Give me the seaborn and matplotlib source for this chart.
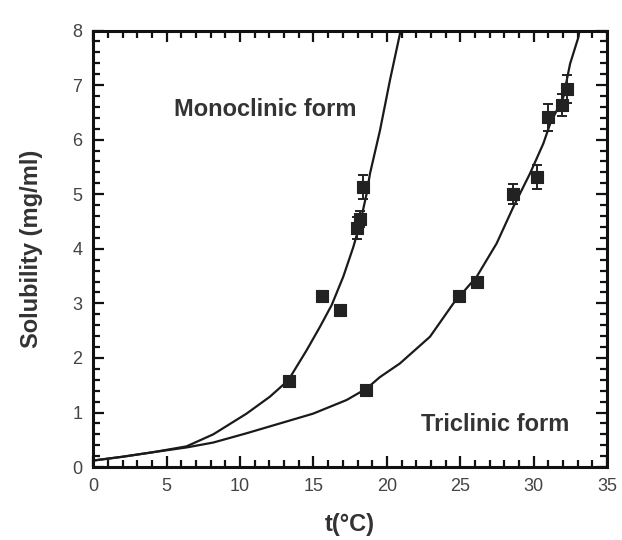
import numpy as np
import pandas as pd
import matplotlib
matplotlib.use("Agg")
import matplotlib.pyplot as plt
import seaborn as sns
from matplotlib.ticker import MultipleLocator

# --- data ---
mono_t = [13.35, 15.55, 16.8, 17.95, 18.2, 18.38]
mono_s = [1.58, 3.14, 2.88, 4.38, 4.55, 5.14]
mono_err = [0.08, 0.08, 0.08, 0.2, 0.15, 0.22]

tri_t = [18.6, 24.88, 26.12, 28.6, 30.2, 31.0, 31.92, 32.24]
tri_s = [1.42, 3.13, 3.4, 5.0, 5.32, 6.41, 6.64, 6.93]
tri_err = [0.08, 0.08, 0.08, 0.18, 0.22, 0.25, 0.2, 0.25]

mono_curve_t = [0, 2, 4, 6.35, 8.17, 10.44, 12.03, 13.28, 14.53, 15.44, 16.24,
                17.03, 17.71, 18.17, 18.62, 18.85, 19.53, 20.21, 20.89, 20.95]
mono_curve_s = [0.12, 0.19, 0.27, 0.38, 0.6, 0.98, 1.29, 1.59, 2.14, 2.57, 2.97,
                3.49, 4.03, 4.46, 5.01, 5.38, 6.17, 7.09, 7.94, 8.0]

tri_curve_t = [0, 2, 4, 6.35, 8.17, 10.44, 12.71, 14.98, 17.26, 18.62, 19.53,
               20.89, 22.94, 24.53, 26.12, 27.48, 28.62, 29.75, 30.66, 31.12,
               32.02, 32.48, 33.05, 33.12]
tri_curve_s = [0.12, 0.19, 0.27, 0.36, 0.45, 0.62, 0.8, 0.98, 1.23, 1.44, 1.65,
               1.9, 2.39, 3.0, 3.49, 4.1, 4.77, 5.38, 5.93, 6.29,
               6.78, 7.39, 7.88, 8.0]

x_ticks = [0, 5, 10, 15, 20, 25, 30, 35]
y_ticks = [0, 1, 2, 3, 4, 5, 6, 7, 8]

sns.set_style("ticks")
plt.rcParams['font.family'] = ['Liberation Sans', 'DejaVu Sans']

fig = plt.figure(figsize=(6.22, 5.40), dpi=100)
ax = fig.add_axes([0.150, 0.135, 0.826, 0.8085])

curves = pd.concat([
    pd.DataFrame({"t": mono_curve_t, "s": mono_curve_s, "form": "Monoclinic"}),
    pd.DataFrame({"t": tri_curve_t, "s": tri_curve_s, "form": "Triclinic"}),
])
sns.lineplot(data=curves, x="t", y="s", units="form", estimator=None,
             color="#1a1a1a", linewidth=1.6, ax=ax, legend=False, sort=False)

pts_color = "#222222"
for tt, ss, ee in [(mono_t, mono_s, mono_err), (tri_t, tri_s, tri_err)]:
    ax.errorbar(tt, ss, yerr=ee, xerr=0.25, fmt="none", ecolor=pts_color,
                elinewidth=1.4, capsize=3.5, capthick=1.4, zorder=3)
    sns.scatterplot(x=tt, y=ss, marker="s", s=80, color=pts_color,
                    edgecolor=pts_color, linewidth=0.8, ax=ax, zorder=4)

ax.set_xlim(0, 35)
ax.set_ylim(0, 8)
ax.set_xticks(x_ticks)
ax.set_yticks(y_ticks)
ax.xaxis.set_minor_locator(MultipleLocator(1))
ax.yaxis.set_minor_locator(MultipleLocator(0.2))
ax.tick_params(which="both", direction="in", top=True, right=True,
               width=1.6, color="#111111")
ax.tick_params(which="major", length=8, labelsize=13, labelcolor="#444444", pad=8)
ax.tick_params(which="minor", length=5)
for sp in ax.spines.values():
    sp.set_linewidth(2.2)
    sp.set_color("#111111")

ax.set_xlabel("t(°C)", fontsize=17, fontweight="bold", color="#333333", labelpad=13)
ax.set_ylabel("Solubility (mg/ml)", fontsize=17, fontweight="bold", color="#333333", labelpad=21)

ax.text(11.7, 6.55, "Monoclinic form", fontsize=17, fontweight="bold",
        color="#333333", ha="center", va="center")
ax.text(27.4, 0.78, "Triclinic form", fontsize=17, fontweight="bold",
        color="#333333", ha="center", va="center")

fig.savefig("out.png", dpi=100, facecolor="white")
